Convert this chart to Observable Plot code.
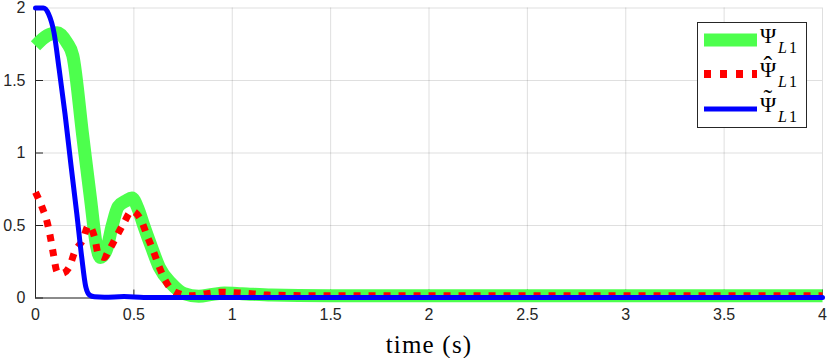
<!DOCTYPE html>
<html>
<head>
<meta charset="utf-8">
<script src="https://cdn.jsdelivr.net/npm/d3@7"></script>
<script src="https://cdn.jsdelivr.net/npm/@observablehq/plot@0.6"></script>
<style>
  html, body { margin: 0; padding: 0; background: #fff; }
  #wrap { position: relative; width: 830px; height: 358px; }
  #legend {
    position: absolute; left: 697px; top: 22px; width: 108px; height: 104px;
    border: 1px solid #262626; background: #fff;
    font-family: "Liberation Serif", serif; color: #000;
  }
  .row { position: absolute; left: 0; width: 108px; height: 30px; }
  .row svg { position: absolute; left: 5px; top: 0; }
  .sym { position: absolute; left: 62px; top: 0px; font-size: 22px; line-height: 22px; white-space: nowrap; }
  .acc { position: absolute; font-size: 26px; line-height: 26px; }
  .sub { position: absolute; top: 15px; font-size: 16px; line-height: 16px; font-style: italic; }
  .sub1 { position: absolute; top: 15px; font-size: 16px; line-height: 16px; font-style: normal; }
</style>
</head>
<body>
<div id="wrap"></div>
<script>
// ---- Data ----
const tPsi = [0, 0.06, 0.11, 0.16, 0.19, 0.24, 0.28, 0.31, 0.33, 0.36, 0.39, 0.42, 0.46, 0.49, 0.52, 0.55, 0.59, 0.63, 0.69, 0.755, 0.83, 0.9, 0.96, 1.05, 1.2, 1.5, 2, 3, 4];
const psi  = [1.74, 1.81, 1.83, 1.76, 1.67, 1.12, 0.68, 0.36, 0.28, 0.33, 0.5, 0.63, 0.67, 0.69, 0.62, 0.5, 0.35, 0.21, 0.1, 0.03, 0.012, 0.025, 0.035, 0.03, 0.02, 0.016, 0.015, 0.015, 0.015];

const tPsiHat = [0, 0.035, 0.06, 0.077, 0.09, 0.11, 0.135, 0.17, 0.2, 0.24, 0.27, 0.3, 0.32, 0.35, 0.37, 0.41, 0.45, 0.49, 0.535, 0.57, 0.6, 0.63, 0.66, 0.71, 0.79, 0.87, 0.95, 1.03, 1.11, 1.18, 1.5, 2, 3, 4];
const psiHat  = [0.73, 0.62, 0.52, 0.41, 0.31, 0.18, 0.17, 0.21, 0.32, 0.40, 0.5, 0.42, 0.3, 0.28, 0.32, 0.42, 0.52, 0.6, 0.54, 0.42, 0.32, 0.21, 0.12, 0.04, 0.015, 0.03, 0.04, 0.035, 0.028, 0.02, 0.015, 0.015, 0.015, 0.015];

const tPsiTilde = [0, 0.04, 0.066, 0.094, 0.12, 0.15, 0.18, 0.21, 0.235, 0.255, 0.275, 0.3, 0.35, 0.45, 0.55, 0.7, 4];
const psiTilde  = [2, 2, 1.96, 1.83, 1.58, 1.27, 0.92, 0.58, 0.28, 0.08, 0.02, 0.008, 0.005, 0.01, 0.004, 0.003, 0.003];

const xTicks = [0, 0.5, 1, 1.5, 2, 2.5, 3, 3.5, 4];
const yTicks = [0, 0.5, 1, 1.5, 2];
const xLabel = "time (s)";
const legendAccents = ["", "\u02C6", "\u02DC"];

const green = "#4dff4d", red = "#ff0000", blue = "#0000ff", axisColor = "#262626";

const dPsi = tPsi.map((t, i) => ({t, v: psi[i]}));
const dHat = tPsiHat.map((t, i) => ({t, v: psiHat[i]}));
const dTil = tPsiTilde.map((t, i) => ({t, v: psiTilde[i]}));

const chart = Plot.plot({
  width: 830,
  height: 358,
  marginLeft: 35,
  marginRight: 8,
  marginTop: 7.5,
  marginBottom: 60.5,
  style: {fontFamily: "'Liberation Sans', Arial, sans-serif", fontSize: "16px", color: axisColor, background: "#fff", overflow: "visible"},
  x: {domain: [0, 4]},
  y: {domain: [0, 2]},
  marks: [
    Plot.gridX(xTicks, {stroke: axisColor, strokeOpacity: 0.15}),
    Plot.gridY(yTicks, {stroke: axisColor, strokeOpacity: 0.15}),
    Plot.ruleX([0], {stroke: axisColor}),
    Plot.ruleY([0], {stroke: axisColor}),
    Plot.axisX(xTicks, {tickSize: -8, text: null, label: null, stroke: axisColor}),
    Plot.axisY(yTicks, {tickSize: -8, text: null, label: null, stroke: axisColor}),
    Plot.axisX(xTicks, {tickSize: 0, tickPadding: 11, label: null, fill: axisColor, tickFormat: d => String(d)}),
    Plot.axisY(yTicks, {tickSize: 0, tickPadding: 10, label: null, fill: axisColor, tickFormat: d => String(d)}),
    Plot.line(dPsi, {x: "t", y: "v", stroke: green, strokeWidth: 13, curve: "monotone-x", strokeLinejoin: "miter", strokeLinecap: "butt"}),
    Plot.line(dHat, {x: "t", y: "v", stroke: red, strokeWidth: 7, strokeDasharray: "7,8", curve: "monotone-x", strokeLinecap: "butt"}),
    Plot.line(dTil, {x: "t", y: "v", stroke: blue, strokeWidth: 5, curve: "monotone-x", strokeLinejoin: "round"}),
    Plot.text([xLabel], {frameAnchor: "bottom", dy: 55, text: d => d, fontSize: 25, fontFamily: "'Liberation Serif', serif", fill: "#000"})
  ]
});

const wrap = document.getElementById("wrap");
wrap.appendChild(chart);
d3.select(chart).selectAll("text").filter(function() { return this.textContent === xLabel; })
  .attr("letter-spacing", "1.2px");

// ---- Legend ----
const legendItems = [
  {color: green, width: 13, dash: null},
  {color: red, width: 8, dash: "7,9"},
  {color: blue, width: 5, dash: null}
];
const rowCenters = [17, 51, 86];
const accTop = [0, -6, -8];
const legend = document.createElement("div");
legend.id = "legend";
legendItems.forEach((it, i) => {
  const row = document.createElement("div");
  row.className = "row";
  row.style.top = (rowCenters[i] - 15) + "px";
  const ns = "http://www.w3.org/2000/svg";
  const s = document.createElementNS(ns, "svg");
  s.setAttribute("width", 56); s.setAttribute("height", 30);
  const l = document.createElementNS(ns, "line");
  l.setAttribute("x1", 1); l.setAttribute("x2", 54);
  l.setAttribute("y1", 15); l.setAttribute("y2", 15);
  l.setAttribute("stroke", it.color);
  l.setAttribute("stroke-width", it.width);
  if (it.dash) l.setAttribute("stroke-dasharray", it.dash);
  s.appendChild(l);
  row.appendChild(s);
  const sym = document.createElement("span");
  sym.className = "sym"; sym.textContent = "\u03A8";
  row.appendChild(sym);
  if (legendAccents[i]) {
    const a = document.createElement("span");
    a.className = "acc"; a.style.left = "65.5px"; a.style.top = accTop[i] + "px";
    a.textContent = legendAccents[i];
    row.appendChild(a);
  }
  const sub = document.createElement("span");
  sub.className = "sub"; sub.style.left = "80px"; sub.textContent = "L";
  row.appendChild(sub);
  const sub1 = document.createElement("span");
  sub1.className = "sub1"; sub1.style.left = "91px"; sub1.textContent = "1";
  row.appendChild(sub1);
  legend.appendChild(row);
});
wrap.appendChild(legend);
</script>
</body>
</html>
